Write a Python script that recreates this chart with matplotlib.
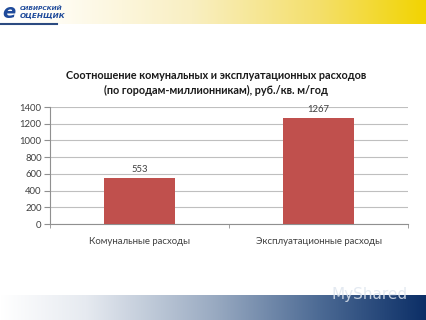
import matplotlib
matplotlib.use("Agg")
import matplotlib.pyplot as plt
from matplotlib.colors import LinearSegmentedColormap
import numpy as np

# данные
categories = ["Комунальные расходы", "Эксплуатационные расходы"]
values = [553, 1267]
y_ticks = [0, 200, 400, 600, 800, 1000, 1200, 1400]
title = "Соотношение комунальных и эксплуатационных расходов\n(по городам-миллионникам), руб./кв. м/год"

W, H = 427, 320
fig = plt.figure(figsize=(W / 100, H / 100), dpi=100)
fig.patch.set_facecolor("white")

# фон слайда (пиксельные координаты)
bg = fig.add_axes([0, 0, 1, 1], zorder=0)
bg.set_xlim(0, W)
bg.set_ylim(H, 0)
bg.axis("off")

# верхняя желтая полоса
yellow = LinearSegmentedColormap.from_list(
    "yl", [(0, "#ffffff"), (0.12, "#fffdf6"), (0.45, "#f9efc2"), (0.75, "#f4df6a"), (1, "#f2d400")])
grad = np.linspace(0, 1, 256).reshape(1, -1)
bg.imshow(grad, cmap=yellow, extent=(0, W, 24, 0), aspect="auto", interpolation="bilinear")

# нижняя синяя полоса
navy = LinearSegmentedColormap.from_list(
    "nv", [(0, "#ffffff"), (0.2, "#e6eaf0"), (0.5, "#9aabc2"), (0.75, "#4c6a94"), (1, "#0b2e66")])
bg.imshow(grad, cmap=navy, extent=(0, W, H, 295), aspect="auto", interpolation="bilinear")
bg.text(370, 294, "MyShared", fontsize=11, color="#dfe6ef", ha="center", va="center", alpha=0.85)

# логотип
bg.plot([0, 57], [24, 24], color="#2b4a80", lw=1.5)
bg.text(9, 12, "е", fontsize=14, color="#1f4a9a", fontweight="bold", style="italic",
        ha="center", va="center")
bg.text(20, 8.5, "СИБИРСКИЙ", fontsize=4.3, color="#1f4a9a", fontweight="bold", style="italic",
        ha="left", va="center")
bg.text(20, 16, "ОЦЕНЩИК", fontsize=5.2, color="#1f4a9a", fontweight="bold", style="italic",
        ha="left", va="center")

# заголовок
bg.text(216, 83, title, fontsize=7.8, fontweight="bold", family="Lato", color="#1a1a1a",
        ha="center", va="center", linespacing=1.35)

# диаграмма
ax = fig.add_axes([50 / W, (H - 224) / H, 358 / W, 117 / H], zorder=2)
ax.patch.set_alpha(0)
x = np.arange(len(categories))
ax.bar(x, values, width=0.4, color="#c0504d", zorder=3)
for xi, v in zip(x, values):
    ax.text(xi, v + 45, str(v), ha="center", va="bottom", fontsize=6.8, color="#404040", family="Lato")

ax.set_xlim(-0.5, 1.5)
ax.set_ylim(0, 1400)
ax.set_yticks(y_ticks)
ax.set_yticklabels([str(t) for t in y_ticks], fontsize=6.8, color="#404040", family="Lato")
ax.set_xticks(x)
ax.set_xticklabels(categories, fontsize=6.9, color="#404040", family="Lato")
ax.tick_params(axis="x", length=0, pad=9)
ax.set_xticks([-0.5, 0.5, 1.5], minor=True)
ax.tick_params(axis="x", which="minor", length=3, color="#909090")
ax.tick_params(axis="y", length=4, color="#909090", pad=2)
ax.grid(axis="y", color="#bfbfbf", lw=0.8, zorder=0)
for s in ["top", "right"]:
    ax.spines[s].set_visible(False)
ax.spines["left"].set_color("#909090")
ax.spines["bottom"].set_color("#909090")
ax.spines["left"].set_linewidth(0.8)
ax.spines["bottom"].set_linewidth(0.8)

fig.savefig("out.png", dpi=100)
